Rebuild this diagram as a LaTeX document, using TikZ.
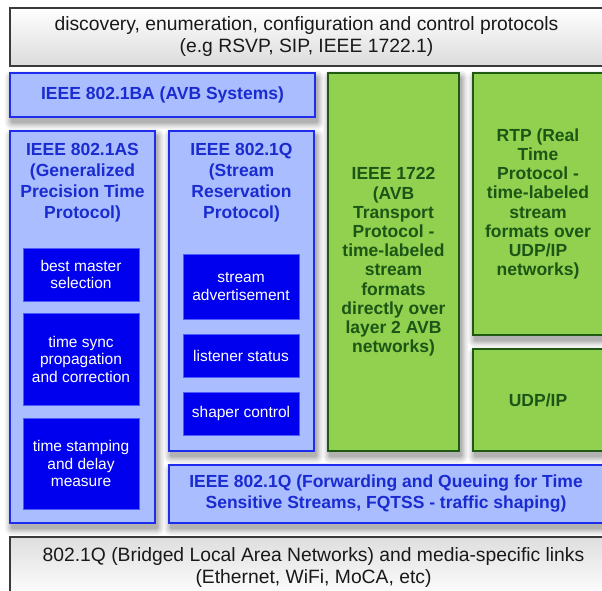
\documentclass[tikz,border=0pt]{standalone}
\usepackage{fontspec}
\setmainfont{Liberation Sans}
\definecolor{stdfill}{HTML}{AABEFF}
\definecolor{stdline}{HTML}{1E2CEB}
\definecolor{stdtext}{HTML}{1A2BD0}
\definecolor{subfill}{HTML}{0000EE}
\definecolor{subline}{HTML}{4A5CFF}
\definecolor{trfill}{HTML}{92D050}
\definecolor{trline}{HTML}{1E5A14}
\definecolor{trtext}{HTML}{1C5616}
\definecolor{linkline}{HTML}{3A3A3A}
\definecolor{shadeA}{gray}{0.95}
\definecolor{shadeB}{gray}{0.90}
\definecolor{shadeC}{gray}{0.84}
\definecolor{shadeD}{gray}{0.77}
\definecolor{shadeE}{gray}{0.70}
\tikzset{
  panel/.style={rectangle, inner sep=0pt, outer sep=0pt, align=center},
  stdbox/.style={panel, fill=stdfill, draw=stdline, line width=1.8pt,
    text=stdtext, font=\fontsize{17.5}{21}\selectfont\bfseries},
  stdtitle/.style={panel, text=stdtext, font=\fontsize{17.5}{20.8}\selectfont\bfseries},
  subbox/.style={panel, fill=subfill, draw=subline, line width=0.8pt,
    text=white, minimum width=116pt, font=\fontsize{15.5}{17.5}\selectfont},
  trbox/.style={panel, fill=trfill, draw=trline, line width=1.8pt,
    text=trtext, font=\fontsize{17.5}{19.2}\selectfont\bfseries},
  linkbox/.style={panel, draw=linkline, line width=1.1pt, text=black!90,
    font=\fontsize{19.3}{22}\selectfont},
}
% soft drop shadow under a panel spanning (x1,y1)-(x2,y2), nested grey rectangles
\newcommand\panelshadow[4]{%
  \fill[shadeA, rounded corners=7pt] (#1-5,#2-2) rectangle (#3+9,#4+12);
  \fill[shadeB, rounded corners=5pt] (#1-3.5,#2-0.5) rectangle (#3+7.5,#4+10.5);
  \fill[shadeC, rounded corners=4pt] (#1-2,#2+1) rectangle (#3+6,#4+9);
  \fill[shadeD, rounded corners=3pt] (#1-0.5,#2+2.5) rectangle (#3+4.5,#4+7.5);
  \fill[shadeE, rounded corners=2pt] (#1+1,#2+4) rectangle (#3+3,#4+6);
}
\begin{document}
\begin{tikzpicture}[x=1pt, y=-1pt]
\fill[white] (0,0) rectangle (602,590);
\useasboundingbox (0,0) rectangle (602,590);

% shadows first, so the panels cover them
\panelshadow{10}{73}{315}{117}
\panelshadow{10}{131}{155}{523}
\panelshadow{169}{131}{314}{451}
\panelshadow{328}{73}{459}{451}
\panelshadow{473}{73}{603}{335}
\panelshadow{473}{349}{603}{451}
\panelshadow{169}{465}{603}{523}

% upper layer: control protocols
\node[linkbox, top color=white, bottom color=black!14, minimum width=593pt, minimum height=58pt]
  (ctrl) at (306.5,37) {discovery, enumeration, configuration and control protocols\\(e.g RSVP, SIP, IEEE 1722.1)};

% AVB system profile
\node[stdbox, minimum width=305pt, minimum height=44pt] (ba) at (162.5,95) {IEEE 802.1BA (AVB Systems)};

% gPTP column
\node[stdbox, minimum width=145pt, minimum height=392pt] (as) at (82.5,327) {};
\node[stdtitle] (astitle) at (82.5,182.5) {IEEE 802.1AS\\(Generalized\\Precision Time\\Protocol)};
\node[subbox, minimum height=53pt] (bms) at (81,274.5) {best master\\selection};
\node[subbox, minimum height=92pt] (tsync) at (81,359) {time sync\\propagation\\and correction};
\node[subbox, minimum height=91pt] (tstamp) at (81,463.5) {time stamping\\and delay\\measure};

% SRP column
\node[stdbox, minimum width=145pt, minimum height=320pt] (srp) at (241.5,291) {};
\node[stdtitle] (srptitle) at (241.5,182.5) {IEEE 802.1Q\\(Stream\\Reservation\\Protocol)};
\node[subbox, minimum height=65pt] (sadv) at (241,286.5) {stream\\advertisement};
\node[subbox, minimum height=43pt] (lstat) at (241,355.5) {listener status};
\node[subbox, minimum height=43pt] (shaper) at (241,413.5) {shaper control};

% transport protocols
\node[trbox, minimum width=131pt, minimum height=378pt] (avtp) at (393.5,262)
  {IEEE 1722\\(AVB\\Transport\\Protocol -\\time-labeled\\stream\\formats\\directly over\\layer 2 AVB\\networks)};
\node[trbox, minimum width=130pt, minimum height=262pt] (rtp) at (538,204)
  {RTP (Real\\Time\\Protocol -\\time-labeled\\stream\\formats over\\UDP/IP\\networks)};
\node[trbox, minimum width=130pt, minimum height=102pt] (udp) at (538,400) {UDP/IP};

% forwarding and queuing
\node[stdbox, minimum width=434pt, minimum height=58pt] (fqtss) at (386,494)
  {IEEE 802.1Q (Forwarding and Queuing for Time\\Sensitive Streams, FQTSS - traffic shaping)};

% lower layer: bridged LAN and links
\node[linkbox, top color=black!13, bottom color=white, minimum width=607pt, minimum height=60pt]
  (lan) at (313.5,567) {802.1Q (Bridged Local Area Networks) and media-specific links\\(Ethernet, WiFi, MoCA, etc)};
\end{tikzpicture}
\end{document}
